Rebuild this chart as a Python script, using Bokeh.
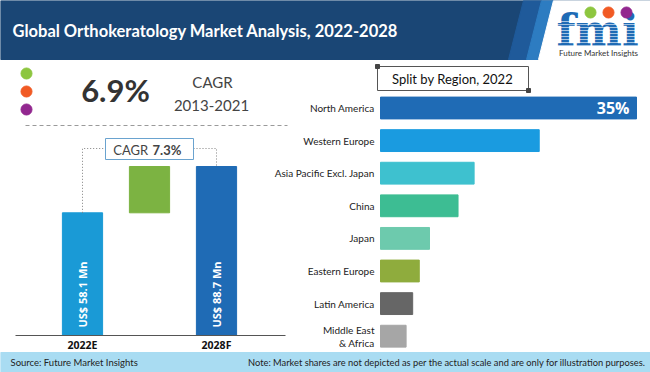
import math
from bokeh.plotting import figure
from bokeh.models import Range1d, ColumnDataSource
from bokeh.embed import file_html
from bokeh.resources import INLINE
from bokeh.core.properties import value

# ---------------- data ----------------
title = "Global Orthokeratology Market Analysis, 2022-2028"
hist_cagr = "6.9%"
hist_period = "2013-2021"
forecast_cagr = "7.3%"
years = ["2022E", "2028F"]
market_usd_mn = [58.1, 88.7]
market_colors = ["#1a9ad6", "#1f6bb5"]
growth_color = "#7cb342"

regions = ["North America", "Western Europe", "Asia Pacific Excl. Japan", "China",
           "Japan", "Eastern Europe", "Latin America", "Middle East\n& Africa"]
shares = [35.0, 21.7, 12.8, 10.6, 6.7, 5.3, 4.4, 3.5]
region_colors = ["#1f6bb5", "#1a9be0", "#3ec1cf", "#3dbd93", "#6dcaad", "#8fac3d",
                 "#666666", "#a6a6a6"]

source_note = "Source: Future Market Insights"
scale_note = "Note: Market shares are not depicted as per the actual scale and are only for illustration purposes."

# ---------------- layout helpers ----------------
W, H = 650, 372
X0, X1 = 0, W
Y0, Y1 = 0, H


def mapped_range(va, pa, vb, pb, p_start, p_end):
    k = (pb - pa) / (vb - va)
    return Range1d(start=va + (p_start - pa) / k, end=va + (p_end - pa) / k)


def px_to_val(rng, p, p_start, p_end):
    return rng.start + (p - p_start) / (p_end - p_start) * (rng.end - rng.start)


p = figure(width=W, height=H, x_range=Range1d(X0, X1), y_range=Range1d(Y1, Y0),
           x_axis_type=None, y_axis_type=None, toolbar_location=None,
           output_backend="svg", min_border=0)
p.grid.visible = False
p.outline_line_color = None
p.background_fill_color = "white"
p.border_fill_color = "white"

share_x = mapped_range(0, 380, 35, 636, X0, X1)
reg_y = mapped_range(0, 107.5, 7, 335.7, Y1, Y0)
wf_x = mapped_range(0, 82, 2, 216, X0, X1)
usd_y = mapped_range(market_usd_mn[0], 212.3, market_usd_mn[1], 166, Y1, Y0)
p.extra_x_ranges = {"share": share_x, "wfx": wf_x}
p.extra_y_ranges = {"reg": reg_y, "usd": usd_y}

FONT = value("Lato")

# ---------------- header ----------------
p.quad(left=X0, right=X1, top=Y0, bottom=59, color="#1a4675")
p.patch([523, 541, 526, 508], [Y0, Y0, 59, 59], color="#1f5a9a")
p.patch([541, 553, 538, 526], [Y0, Y0, 59, 59], color="#2d7cc1")
p.patch([553, X1, X1, 538], [Y0, Y0, 59, 59], color="white")
p.text(x=[12], y=[30], text=[title], text_font=FONT, text_font_style="bold",
       text_font_size="16.5px", text_color="white", text_baseline="middle")

# logo
p.text(x=[597], y=[30], text=["fmi"], text_font=value("DejaVu Serif"),
       text_font_style="bold", text_font_size="44px", text_color="#1f6bb5",
       text_align="center", text_baseline="middle")
for yy in range(21, 46, 3):
    p.line([553, 645], [yy, yy], line_color="white", line_width=0.6)
p.scatter(x=[590, 608, 626], y=[12, 12, 12], size=11,
          color=["#8dc63f", "#f15a24", "#92278f"])
p.text(x=[598], y=[52], text=["Future Market Insights"], text_font=FONT,
       text_font_size="8px", text_color="#333333", text_align="center",
       text_baseline="middle")

# ---------------- left KPI ----------------
p.scatter(x=[26, 26, 26], y=[73, 91, 109], size=11,
          color=["#8dc63f", "#f15a24", "#92278f"])
p.text(x=[115], y=[89], text=[hist_cagr], text_font=FONT, text_font_style="bold",
       text_font_size="31px", text_color="#333333", text_align="center",
       text_baseline="middle")
p.text(x=[212, 211], y=[81, 105], text=["CAGR", hist_period], text_font=FONT,
       text_font_size="15px", text_color="#444444", text_align="center",
       text_baseline="middle")
p.line([25, 287], [125, 125], line_color="#9a9a9a", line_dash="4 3", line_width=1)

# ---------------- waterfall ----------------
floor = px_to_val(usd_y, 335, Y1, Y0)
wsrc = ColumnDataSource(dict(x=[0, 2], top=market_usd_mn, bottom=[floor, floor],
                             color=market_colors,
                             label=[f"US$ {v:g} Mn" for v in market_usd_mn]))
p.vbar(x="x", top="top", bottom="bottom", width=0.6, color="color", source=wsrc,
       x_range_name="wfx", y_range_name="usd")
p.vbar(x=[1], bottom=[market_usd_mn[0]], top=[market_usd_mn[1]], width=0.6,
       color=growth_color, x_range_name="wfx", y_range_name="usd")
p.text(x="x", y="bottom", text="label", source=wsrc, angle=math.pi / 2,
       text_align="left", text_baseline="middle", y_offset=-8,
       text_font=value("Open Sans"), text_font_style="bold",
       text_font_size="11px", text_color="white",
       x_range_name="wfx", y_range_name="usd")
p.line([15, 285], [335, 335], line_color="#555555", line_width=1)
p.text(x=[0, 2], y=[floor, floor], text=years, y_offset=9,
       text_font=value("Open Sans"), text_font_style="bold", text_font_size="10.5px",
       text_color="#111111", text_align="center", text_baseline="middle",
       x_range_name="wfx", y_range_name="usd")

# connectors to CAGR box
conn_y = px_to_val(usd_y, 148, Y1, Y0)
box_l = px_to_val(wf_x, 105, X0, X1)
box_r = px_to_val(wf_x, 193, X0, X1)
p.multi_line(xs=[[0, 0, box_l], [box_r, 2, 2]],
             ys=[[market_usd_mn[0], conn_y, conn_y], [conn_y, conn_y, market_usd_mn[1]]],
             line_color="#808080", line_dash="1 2", line_width=1,
             x_range_name="wfx", y_range_name="usd")
p.quad(left=105, right=193, top=138, bottom=159, fill_color="white",
       line_color="#6aa3cf", line_width=1)
p.text(x=[151], y=[149], text=["CAGR "], text_font=FONT, text_font_size="13px",
       text_color="#444444", text_align="right", text_baseline="middle")
p.text(x=[152], y=[149], text=[forecast_cagr], text_font=FONT, text_font_style="bold",
       text_font_size="13px", text_color="#444444", text_align="left",
       text_baseline="middle")

# ---------------- region split ----------------
p.quad(left=377, right=528, top=66, bottom=90, fill_color="white",
       line_color="#555555", line_width=1)
p.rect(x=[377, 528], y=[66, 90], width=4, height=4, color="#444444")
p.text(x=[452], y=[78], text=["Split by Region, 2022"], text_font=FONT,
       text_font_size="13px", text_color="#111111", text_align="center",
       text_baseline="middle")

rsrc = ColumnDataSource(dict(y=list(range(len(regions))), share=shares,
                             color=region_colors, region=regions))
p.hbar(y="y", left=0, right="share", height=0.67, color="color", source=rsrc,
       x_range_name="share", y_range_name="reg")
p.text(x=374, y="y", text="region", source=rsrc, text_font=FONT,
       text_font_size="10px", text_color="#222222", text_align="right",
       text_baseline="middle", text_line_height=1.1, y_range_name="reg")
p.text(x=[shares[0]], y=[0], text=[f"{shares[0]:g}%"], x_offset=-7,
       text_font=value("Open Sans"), text_font_style="bold", text_font_size="16px",
       text_color="white", text_align="right", text_baseline="middle",
       x_range_name="share", y_range_name="reg")

# ---------------- footer ----------------
p.quad(left=X0, right=X1, top=352, bottom=Y1, color="#a9dcf2")
p.text(x=[10], y=[362], text=[source_note], text_font=FONT, text_font_size="9.5px",
       text_color="#222222", text_baseline="middle")
p.text(x=[645], y=[362], text=[scale_note], text_font=FONT, text_font_size="9.3px",
       text_color="#222222", text_align="right", text_baseline="middle")

open("out.html", "w").write(file_html(p, INLINE))
